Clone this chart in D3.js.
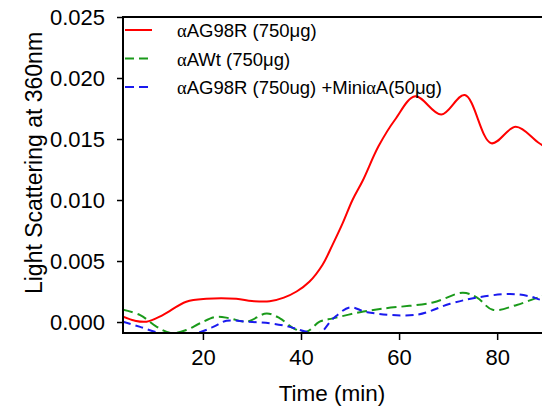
<!DOCTYPE html>
<html><head><meta charset="utf-8">
<script src="https://cdn.jsdelivr.net/npm/d3@7"></script>
<style>body{margin:0;background:#fff}svg{display:block}text{font-family:"Liberation Sans",Arial,sans-serif}</style>
</head><body><svg id="c" width="542" height="408"></svg>
<script>
const seriesNames = ["αAG98R (750μg)", "αAWt (750μg)", "αAG98R (750ug) +MiniαA(50μg)"];
const redT = [3.7, 6, 8.5, 11.8, 16.6, 20.7, 26.8, 30, 33.6, 36.5, 39.1, 41.7, 44.4, 46.4, 48.5, 50.5, 52.6, 55.8, 59.2, 63.3, 68.6, 73.4, 78.8, 83.8, 88.6, 92];
const redV = [0.00043, 0.00012, 0.00003, 0.00057, 0.00166, 0.0019, 0.0019, 0.00172, 0.0017, 0.002, 0.0025, 0.0033, 0.0047, 0.0063, 0.0081, 0.0100, 0.0116, 0.0144, 0.0166, 0.0185, 0.0170, 0.0186, 0.01465, 0.0160, 0.01465, 0.0138];
const greenT = [3.7, 7.2, 10.6, 13.4, 16.6, 19.4, 22.8, 25.5, 28.9, 33, 35.7, 38.4, 41.1, 43.8, 46.5, 52, 56.7, 66.9, 73, 75.9, 79.1, 84, 89, 92];
const greenV = [0.001, 0.00057, -0.0004, -0.0009, -0.00066, -0.0001, 0.00043, 0.0003, 0.00003, 0.0007, 0.0003, -0.0005, -0.0008, 0.00003, 0.0003, 0.0008, 0.0011, 0.0016, 0.0024, 0.0020, 0.0010, 0.0014, 0.0021, 0.0024];
const blueT = [3.7, 7.2, 11.3, 15, 18.8, 22.1, 24.8, 28.9, 33.6, 37.7, 41.1, 43.8, 46.6, 50, 53.5, 63.6, 70.4, 75.9, 82.6, 86.7, 89, 92];
const blueV = [0.00003, -0.0004, -0.0009, -0.00095, -0.0009, -0.0004, 0.0001, 0.00003, -0.0001, -0.0004, -0.0008, -0.0009, 0.0003, 0.0012, 0.0008, 0.0006, 0.0015, 0.0020, 0.0023, 0.0021, 0.0018, 0.0016];
const xTicks = [20, 40, 60, 80];
const yTicks = [0.000, 0.005, 0.010, 0.015, 0.020, 0.025];
const colors = ["#ff0000", "#1a9a1a", "#1a1aee"];

const svg = d3.select("#c");
const L = 123, R = 556, T = 17, B = 333;
const x = d3.scaleLinear().domain([3.7, 92]).range([L, R]);
const y = d3.scaleLinear().domain([-0.0009, 0.025]).range([B, T]);

svg.append("clipPath").attr("id", "clip").append("rect").attr("x", L).attr("y", T).attr("width", R - L).attr("height", B - T);

const line = d3.line().x(d => x(d[0])).y(d => y(d[1])).curve(d3.curveCatmullRom.alpha(0.5));
const series = [
  {t: redT, v: redV, dash: null},
  {t: greenT, v: greenV, dash: "10,5"},
  {t: blueT, v: blueV, dash: "8,5"}
];
const g = svg.append("g").attr("clip-path", "url(#clip)");
series.forEach((s, i) => {
  g.append("path").datum(s.t.map((t, j) => [t, s.v[j]]))
    .attr("d", line).attr("fill", "none").attr("stroke", colors[i])
    .attr("stroke-width", 2).attr("stroke-dasharray", s.dash);
});

// frame
svg.append("rect").attr("x", L).attr("y", T).attr("width", R - L).attr("height", B - T)
  .attr("fill", "none").attr("stroke", "#000").attr("stroke-width", 2);

const xa = svg.append("g").attr("transform", `translate(0,${B})`)
  .call(d3.axisBottom(x).tickValues(xTicks).tickSize(7).tickPadding(9).tickFormat(d3.format("d")));
xa.select(".domain").remove();
xa.selectAll("line").attr("stroke-width", 1.5);
xa.selectAll("text").attr("font-size", 22).attr("fill", "#000");

const ya = svg.append("g").attr("transform", `translate(${L},0)`)
  .call(d3.axisLeft(y).tickValues(yTicks).tickSize(6).tickPadding(12).tickFormat(d3.format(".3f")));
ya.select(".domain").remove();
ya.selectAll("line").attr("stroke-width", 1.5);
ya.selectAll("text").attr("font-size", 22).attr("fill", "#000");

svg.append("text").attr("x", 332).attr("y", 401).attr("text-anchor", "middle")
  .attr("font-size", 22.5).text("Time (min)");
svg.append("text").attr("transform", "translate(42,163) rotate(-90)").attr("text-anchor", "middle")
  .attr("font-size", 23).text("Light Scattering at 360nm");

// legend
const leg = svg.append("g");
seriesNames.forEach((n, i) => {
  const yy = 30 + i * 28.5;
  leg.append("line").attr("x1", 125).attr("x2", 152).attr("y1", yy).attr("y2", yy)
    .attr("stroke", colors[i]).attr("stroke-width", 2).attr("stroke-dasharray", i === 0 ? null : "9,5");
  const t = leg.append("text").attr("x", 177).attr("y", yy + 7).attr("font-size", 18.5);
  n.split(/(α)/).forEach(part => {
    if (!part) return;
    const ts = t.append("tspan").text(part);
    if (part === "α") ts.attr("font-family", "'Liberation Serif', serif");
  });
});
</script></body></html>
